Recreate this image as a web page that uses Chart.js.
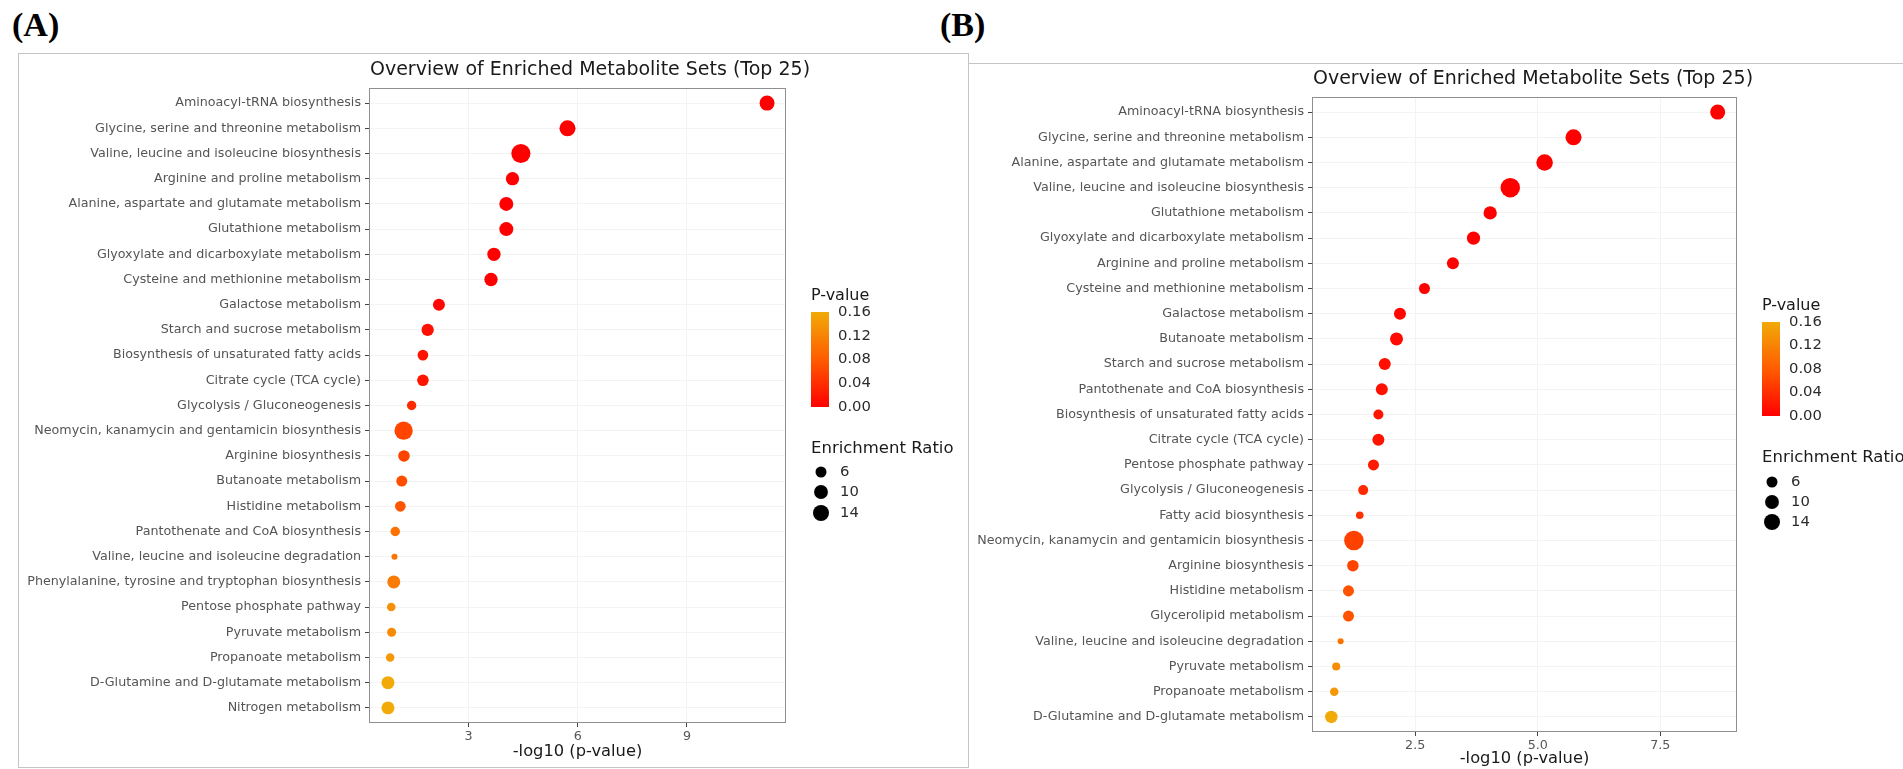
<!DOCTYPE html>
<html>
<head>
<meta charset="utf-8">
<script src="https://cdn.jsdelivr.net/npm/chart.js@4.4.1/dist/chart.umd.min.js"></script>
<style>
html, body { margin: 0; padding: 0; background: #fff; width: 1903px; height: 769px; overflow: hidden; }
.tag { position: absolute; font: bold 34px "Liberation Serif", "Times New Roman", serif; line-height: 34px; color: #000; }
.frame { position: absolute; box-sizing: border-box; }
canvas { position: absolute; }
</style>
</head>
<body>
<div class="tag" style="left:12px; top:8px;">(A)</div>
<div class="tag" style="left:940px; top:8px;">(B)</div>
<div class="frame" style="left:18px; top:53px; width:951px; height:715px; border:1px solid #c4c4c4;"></div>
<div class="frame" style="left:968px; top:63px; width:935px; height:1px; border-top:1px solid #c4c4c4;"></div>
<canvas id="plotA" width="950" height="714" style="left:18px; top:53px;"></canvas>
<canvas id="plotB" width="935" height="706" style="left:968px; top:63px;"></canvas>
<script>
// ---- data ----
const pathwaysA = [
	'Aminoacyl-tRNA biosynthesis',
	'Glycine, serine and threonine metabolism',
	'Valine, leucine and isoleucine biosynthesis',
	'Arginine and proline metabolism',
	'Alanine, aspartate and glutamate metabolism',
	'Glutathione metabolism',
	'Glyoxylate and dicarboxylate metabolism',
	'Cysteine and methionine metabolism',
	'Galactose metabolism',
	'Starch and sucrose metabolism',
	'Biosynthesis of unsaturated fatty acids',
	'Citrate cycle (TCA cycle)',
	'Glycolysis / Gluconeogenesis',
	'Neomycin, kanamycin and gentamicin biosynthesis',
	'Arginine biosynthesis',
	'Butanoate metabolism',
	'Histidine metabolism',
	'Pantothenate and CoA biosynthesis',
	'Valine, leucine and isoleucine degradation',
	'Phenylalanine, tyrosine and tryptophan biosynthesis',
	'Pentose phosphate pathway',
	'Pyruvate metabolism',
	'Propanoate metabolism',
	'D-Glutamine and D-glutamate metabolism',
	'Nitrogen metabolism'
];
const logPA  = [11.20, 5.72, 4.44, 4.21, 4.04, 4.04, 3.70, 3.62, 2.19, 1.88, 1.75, 1.75, 1.44,
	1.22, 1.23, 1.17, 1.13, 0.99, 0.97, 0.95, 0.88, 0.89, 0.85, 0.79, 0.79];
const ratioA = [12.0, 14.0, 21.0, 9.1, 10.2, 10.2, 9.1, 9.1, 7.2, 7.6, 5.6, 6.6, 4.3,
	19.0, 6.6, 6.0, 5.6, 4.4, 2.3, 8.6, 3.6, 4.0, 3.6, 8.6, 8.6];

const pathwaysB = [
	'Aminoacyl-tRNA biosynthesis',
	'Glycine, serine and threonine metabolism',
	'Alanine, aspartate and glutamate metabolism',
	'Valine, leucine and isoleucine biosynthesis',
	'Glutathione metabolism',
	'Glyoxylate and dicarboxylate metabolism',
	'Arginine and proline metabolism',
	'Cysteine and methionine metabolism',
	'Galactose metabolism',
	'Butanoate metabolism',
	'Starch and sucrose metabolism',
	'Pantothenate and CoA biosynthesis',
	'Biosynthesis of unsaturated fatty acids',
	'Citrate cycle (TCA cycle)',
	'Pentose phosphate pathway',
	'Glycolysis / Gluconeogenesis',
	'Fatty acid biosynthesis',
	'Neomycin, kanamycin and gentamicin biosynthesis',
	'Arginine biosynthesis',
	'Histidine metabolism',
	'Glycerolipid metabolism',
	'Valine, leucine and isoleucine degradation',
	'Pyruvate metabolism',
	'Propanoate metabolism',
	'D-Glutamine and D-glutamate metabolism'
];
const logPB  = [8.67, 5.73, 5.14, 4.44, 4.03, 3.69, 3.27, 2.69, 2.19, 2.12, 1.88, 1.82, 1.75,
	1.75, 1.65, 1.44, 1.37, 1.25, 1.23, 1.14, 1.14, 0.98, 0.89, 0.85, 0.79];
const ratioB = [12.0, 14.0, 15.0, 22.0, 9.1, 9.1, 7.2, 6.0, 7.2, 8.6, 7.2, 7.2, 4.9,
	7.2, 6.0, 4.9, 3.0, 22.0, 6.6, 6.0, 6.0, 2.3, 3.3, 3.6, 7.9];

const xTicksA = [3, 6, 9];
const xTicksB = [2.5, 5.0, 7.5];
const pTicks = [0.00, 0.04, 0.08, 0.12, 0.16];
const sizeTicks = [6, 10, 14];

const FONT = '"DejaVu Sans", Verdana, sans-serif';
const pMax = 0.16;
const colorStops = [[255, 0, 0], [255, 92, 0], [241, 170, 8]];

function pColor(p)
{
	var t = Math.max(0, Math.min(1, p / pMax)) * (colorStops.length - 1);
	var i = Math.min(Math.floor(t), colorStops.length - 2), f = t - i;
	var a = colorStops[i], b = colorStops[i + 1];
	return 'rgb(' + [0, 1, 2].map(k => Math.round(a[k] + (b[k] - a[k]) * f)).join(',') + ')';
}

// area-style size scale, like ggplot's scale_size
function dotRadius(ratio)
{
	return (4.2 + 14.5 * Math.sqrt(Math.max(0, ratio - 2) / 18)) / 2;
}

function dotPlot(id, names, logP, ratio, xTicks, digits, g)
{
	var lo = Math.min.apply(null, logP), hi = Math.max.apply(null, logP);
	var pad = (hi - lo) * 0.05;
	var n = names.length;

	var extras = {
		id: 'extras',
		beforeDatasetsDraw: function(chart)
		{
			var a = chart.chartArea, ctx = chart.ctx;
			ctx.save();
			ctx.strokeStyle = '#8f8f8f';
			ctx.lineWidth = 1;
			ctx.strokeRect(Math.round(a.left) + 0.5, Math.round(a.top) + 0.5,
				Math.round(a.right - a.left) - 1, Math.round(a.bottom - a.top) - 1);
			ctx.restore();
		},
		afterDraw: function(chart)
		{
			var ctx = chart.ctx;
			ctx.save();
			ctx.textBaseline = 'middle';
			ctx.textAlign = 'center';
			ctx.fillStyle = '#1a1a1a';
			ctx.font = '19px ' + FONT;
			ctx.fillText('Overview of Enriched Metabolite Sets (Top 25)', g.titleX, g.titleY);

			ctx.textAlign = 'left';
			ctx.font = '16px ' + FONT;
			ctx.fillText('P-value', g.lx, g.pTitleY);

			var grad = ctx.createLinearGradient(0, g.barBottom, 0, g.barTop);
			for (var k = 0; k <= 20; k++)
				grad.addColorStop(k / 20, pColor(pMax * k / 20));
			ctx.fillStyle = grad;
			ctx.fillRect(g.lx, g.barTop, 18, g.barBottom - g.barTop);

			ctx.fillStyle = '#2b2b2b';
			ctx.font = '14.8px ' + FONT;
			pTicks.forEach(function(p)
			{
				var y = g.barBottom - (p / pMax) * (g.barBottom - g.barTop);
				ctx.fillText(p.toFixed(2), g.lx + 27, y);
			});

			ctx.fillStyle = '#1a1a1a';
			ctx.font = '16.5px ' + FONT;
			ctx.fillText('Enrichment Ratio', g.lx, g.sTitleY);

			ctx.font = '14.8px ' + FONT;
			sizeTicks.forEach(function(s, k)
			{
				ctx.fillStyle = '#000';
				ctx.beginPath();
				ctx.arc(g.lx + 10, g.sY[k], dotRadius(s), 0, Math.PI * 2);
				ctx.fill();
				ctx.fillStyle = '#2b2b2b';
				ctx.fillText(String(s), g.lx + 29, g.sY[k]);
			});
			ctx.restore();
		}
	};

	return new Chart(document.getElementById(id), {
		type: 'bubble',
		data: {
			datasets: [{
				data: names.map((nm, i) => ({x: logP[i], y: i + 1, r: dotRadius(ratio[i])})),
				backgroundColor: logP.map(v => pColor(Math.pow(10, -v))),
				borderWidth: 0,
				hoverBorderWidth: 0
			}]
		},
		options: {
			responsive: false,
			animation: false,
			events: [],
			layout: {padding: {left: 0, top: g.top, right: g.right, bottom: 0}},
			plugins: {legend: {display: false}, tooltip: {enabled: false}, title: {display: false}},
			scales: {
				x: {
					type: 'linear',
					min: lo - pad,
					max: hi + pad,
					afterBuildTicks: function(s) { s.ticks = xTicks.map(v => ({value: v})); },
					afterFit: function(s) { s.height = g.xh; },
					ticks: {
						callback: v => Number(v).toFixed(digits),
						font: {family: FONT, size: 12.7},
						color: '#555',
						padding: 2,
						maxRotation: 0,
						autoSkip: false
					},
					grid: {color: '#f3f3f3', tickColor: '#444', tickLength: 4},
					border: {display: false},
					title: {
						display: true,
						text: '-log10 (p-value)',
						font: {family: FONT, size: 16.3},
						color: '#1a1a1a',
						padding: {top: 0, bottom: g.tpad}
					}
				},
				y: {
					type: 'linear',
					reverse: true,
					min: 0.4,
					max: n + 0.6,
					afterBuildTicks: function(s) { s.ticks = names.map((nm, i) => ({value: i + 1})); },
					afterFit: function(s) { s.width = g.yw; },
					ticks: {
						callback: v => names[Math.round(v) - 1],
						autoSkip: false,
						font: {family: FONT, size: 12.7},
						color: '#555',
						padding: 4
					},
					grid: {color: '#f3f3f3', tickColor: '#444', tickLength: 4},
					border: {display: false}
				}
			}
		},
		plugins: [extras]
	});
}

dotPlot('plotA', pathwaysA, logPA, ratioA, xTicksA, 0, {
	top: 35, right: 182, xh: 44, yw: 351, tpad: 5,
	titleX: 572, titleY: 17,
	lx: 793, pTitleY: 243, barTop: 259, barBottom: 354, sTitleY: 396, sY: [419, 439, 460]
});

dotPlot('plotB', pathwaysB, logPB, ratioB, xTicksB, 1, {
	top: 34, right: 166, xh: 37, yw: 344, tpad: 0,
	titleX: 565, titleY: 16,
	lx: 794, pTitleY: 243, barTop: 259, barBottom: 353, sTitleY: 395, sY: [419, 439, 459]
});
</script>
</body>
</html>
